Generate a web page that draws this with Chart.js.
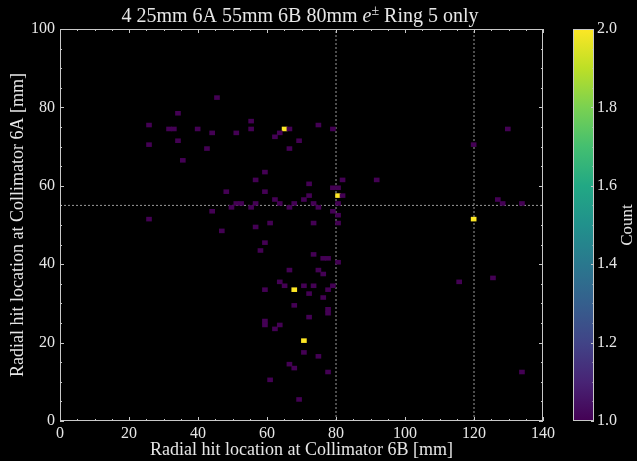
<!DOCTYPE html>
<html><head><meta charset="utf-8">
<script src="https://cdn.jsdelivr.net/npm/chart.js@4"></script>
<style>
html,body{margin:0;padding:0;background:#000;}
#wrap{position:relative;width:637px;height:461px;background:#000;}
canvas{position:absolute;left:0;top:0;}
</style></head><body>
<div id="wrap"><canvas id="main" width="637" height="461"></canvas><canvas id="cbar" width="637" height="461"></canvas></div>
<script>
// ---- data (bin centres in mm, counts) ----
const cellX = [45.5,34.2,55.4,25.8,74.9,31.6,33.0,39.9,55.4,65.1,66.5,79.1,129.8,44.1,51.1,63.7,62.3,34.2,69.3,25.8,119.9,42.6,66.5,35.6,59.4,56.7,81.9,91.8,72.2,79.1,80.6,48.2,59.4,72.2,80.6,81.9,62.3,70.7,126.9,51.1,52.5,56.7,63.7,67.9,73.5,80.6,128.3,133.9,49.7,55.4,66.5,74.9,44.1,79.1,80.6,25.8,119.9,60.9,73.5,80.6,56.7,46.9,59.4,58.1,73.5,76.3,77.7,80.6,66.5,74.9,76.3,125.5,63.7,115.7,65.1,70.7,73.5,79.1,59.4,67.9,77.7,72.2,76.3,67.9,77.7,77.7,72.2,59.4,59.4,63.7,62.3,70.7,70.7,74.9,66.5,67.9,77.7,133.9,60.9,69.3];
const cellY = [82.5,78.5,76.5,75.5,75.5,74.5,74.5,74.5,74.5,74.5,74.5,74.5,74.5,73.5,73.5,73.5,72.5,71.5,71.5,70.5,70.5,69.5,69.5,66.5,63.5,61.5,61.5,61.5,60.5,59.5,59.5,58.5,58.5,57.5,57.5,57.5,56.5,56.5,56.5,55.5,55.5,55.5,55.5,55.5,55.5,55.5,55.5,55.5,54.5,54.5,54.5,54.5,53.5,53.5,52.5,51.5,51.5,50.5,50.5,50.5,49.5,48.5,45.5,43.5,42.5,41.5,41.5,40.5,38.5,38.5,37.5,36.5,35.5,35.5,34.5,34.5,34.5,34.5,33.5,33.5,33.5,32.5,31.5,29.5,28.5,27.5,26.5,25.5,24.5,24.5,23.5,20.5,17.5,16.5,14.5,13.5,12.5,12.5,10.5,5.5];
const cellCount = [1,1,1,1,1,1,1,1,1,2,1,1,1,1,1,1,1,1,1,1,1,1,1,1,1,1,1,1,1,1,1,1,1,1,2,1,1,1,1,1,1,1,1,1,1,1,1,1,1,1,1,1,1,1,1,1,2,1,1,1,1,1,1,1,1,1,1,1,1,1,1,1,1,1,1,1,1,1,1,2,1,1,1,1,1,1,1,1,1,1,1,2,1,1,1,1,1,1,1,1];
const refLinesX = [80, 120];
const refLinesY = [55];
const xRange = [0, 140];
const yRange = [0, 100];
const countRange = [1, 2];
const titleParts = ['4 25mm 6A 55mm 6B 80mm ', 'e', '\u00B1', ' Ring 5 only'];
const xTitle = 'Radial hit location at Collimator 6B [mm]';
const yTitle = 'Radial hit location at Collimator 6A [mm]';
const cbTitle = 'Count';

// ---- styling ----
const FONT = "'Liberation Serif', 'DejaVu Serif', serif";
const TXT = '#e6e6e6';
const AX = '#c8c8c8';
const VIRIDIS = ['#440154','#482475','#414487','#355f8d','#2a788e','#21918c','#22a884','#44bf70','#7ad151','#bddf26','#fde725'];
function hex2rgb(h){return [parseInt(h.slice(1,3),16),parseInt(h.slice(3,5),16),parseInt(h.slice(5,7),16)];}
function viridis(t){
  t=Math.max(0,Math.min(1,t));
  const p=t*(VIRIDIS.length-1), i=Math.min(Math.floor(p),VIRIDIS.length-2), f=p-i;
  const a=hex2rgb(VIRIDIS[i]), b=hex2rgb(VIRIDIS[i+1]);
  return 'rgb('+a.map((v,k)=>Math.round(v+(b[k]-v)*f)).join(',')+')';
}

const cellData = cellX.map((x,i)=>({x:x, y:[cellY[i]-0.5, cellY[i]+0.5]}));
const cellColors = cellCount.map(c=>viridis((c-countRange[0])/(countRange[1]-countRange[0])));

const lineSets = refLinesX.map(v=>({type:'line', data:[{x:v,y:yRange[0]},{x:v,y:yRange[1]}]}))
  .concat(refLinesY.map(v=>({type:'line', data:[{x:xRange[0],y:v},{x:xRange[1],y:v}]})))
  .map(d=>Object.assign(d,{borderColor:'#9a9a9a', borderWidth:1, borderDash:[2,2], pointRadius:0, fill:false, order:2, tension:0}));

function inwardTicks(ctx, scale, horiz, area, step, majorStep, majLen, minLen, sides){
  const min=scale.min, max=scale.max;
  const n=Math.round((max-min)/step);
  for(let k=0;k<=n;k++){
    const v=min+k*step;
    const major=Math.abs(v/majorStep-Math.round(v/majorStep))<1e-6;
    const len=major?majLen:minLen;
    const p=Math.round(scale.getPixelForValue(v))+0.5;
    ctx.beginPath();
    if(horiz){
      if(sides.includes('b')){ctx.moveTo(p,area.bottom);ctx.lineTo(p,area.bottom-len);}
      if(sides.includes('t')){ctx.moveTo(p,area.top);ctx.lineTo(p,area.top+len);}
    } else {
      if(sides.includes('l')){ctx.moveTo(area.left,p);ctx.lineTo(area.left+len,p);}
      if(sides.includes('r')){ctx.moveTo(area.right,p);ctx.lineTo(area.right-len,p);}
    }
    ctx.stroke();
  }
}

const framePlugin = {
  id:'frame',
  afterDraw(chart){
    const {ctx, chartArea:a, scales} = chart;
    ctx.save();
    ctx.strokeStyle=AX; ctx.lineWidth=1;
    ctx.strokeRect(Math.round(a.left)+0.5, Math.round(a.top)+0.5, Math.round(a.right-a.left)-1, Math.round(a.bottom-a.top)-1);
    inwardTicks(ctx, scales.x, true, a, 5, 20, 4, 2, 'bt');
    inwardTicks(ctx, scales.y, false, a, 5, 20, 4, 2, 'lr');
    // title
    ctx.fillStyle=TXT; ctx.textBaseline='alphabetic';
    const f1='20px '+FONT, fi='italic 20px '+FONT, fs='14px '+FONT;
    const fonts=[f1,fi,fs,f1];
    const w=titleParts.map((t,i)=>{ctx.font=fonts[i];return ctx.measureText(t).width;});
    const total=w.reduce((s,v)=>s+v,0);
    let x=300-total/2; const base=22;
    titleParts.forEach((t,i)=>{ctx.font=fonts[i]; ctx.fillText(t,x,i===2?base-7:base); x+=w[i];});
    ctx.restore();
  }
};

new Chart(document.getElementById('main'), {
  type:'bar',
  data:{datasets:[{type:'bar', data:cellData, backgroundColor:cellColors, borderWidth:0, barThickness:5, grouped:false, order:1}].concat(lineSets)},
  options:{
    responsive:false, animation:false, events:[],
    layout:{padding:{left:0,right:94,top:29,bottom:0}},
    plugins:{legend:{display:false}, tooltip:{enabled:false}, title:{display:false}},
    scales:{
      x:{type:'linear', min:xRange[0], max:xRange[1], offset:false,
         ticks:{stepSize:20, color:TXT, font:{family:FONT,size:16}, padding:3, maxRotation:0},
         grid:{display:false, drawTicks:false}, border:{display:false},
         title:{display:true, text:xTitle, color:TXT, font:{family:FONT,size:18}, padding:{top:0,bottom:0}},
         afterFit(s){s.height=40;}},
      y:{type:'linear', min:yRange[0], max:yRange[1],
         ticks:{stepSize:20, color:TXT, font:{family:FONT,size:16}, padding:5},
         grid:{display:false, drawTicks:false}, border:{display:false},
         title:{display:true, text:yTitle, color:TXT, font:{family:FONT,size:18}, padding:{top:7,bottom:0}},
         afterFit(s){s.width=60;}}
    }
  },
  plugins:[framePlugin]
});

const cbPlugin = {
  id:'cbframe',
  afterDraw(chart){
    const {ctx, chartArea:a, scales} = chart;
    ctx.save();
    ctx.strokeStyle=AX; ctx.lineWidth=1;
    ctx.strokeRect(Math.round(a.left)+0.5, Math.round(a.top)+0.5, Math.round(a.right-a.left)-1, Math.round(a.bottom-a.top)-1);
    inwardTicks(ctx, scales.y, false, a, 0.05, 0.2, 3, 1.5, 'r');
    ctx.fillStyle=TXT; ctx.font='17px '+FONT; ctx.textAlign='center'; ctx.textBaseline='middle';
    ctx.translate(628,(a.top+a.bottom)/2); ctx.rotate(-Math.PI/2);
    ctx.fillText(cbTitle,0,0);
    ctx.restore();
  }
};

new Chart(document.getElementById('cbar'), {
  type:'bar',
  data:{labels:[''], datasets:[{data:[countRange.slice()], barPercentage:1, categoryPercentage:1, borderWidth:0,
    backgroundColor(c){
      const ch=c.chart, a=ch.chartArea;
      if(!a) return VIRIDIS[0];
      const g=ch.ctx.createLinearGradient(0,a.bottom,0,a.top);
      VIRIDIS.forEach((col,i)=>g.addColorStop(i/(VIRIDIS.length-1),col));
      return g;
    }}]},
  options:{
    responsive:false, animation:false, events:[],
    layout:{padding:{left:573,right:0,top:29,bottom:40}},
    plugins:{legend:{display:false}, tooltip:{enabled:false}},
    scales:{
      x:{display:false},
      y:{position:'right', min:countRange[0], max:countRange[1],
         ticks:{stepSize:0.2, callback:v=>Number(v).toFixed(1), color:TXT, font:{family:FONT,size:16}, padding:3},
         grid:{display:false, drawTicks:false}, border:{display:false},
         afterFit(s){s.width=43;}}
    }
  },
  plugins:[cbPlugin]
});
</script>
</body></html>
